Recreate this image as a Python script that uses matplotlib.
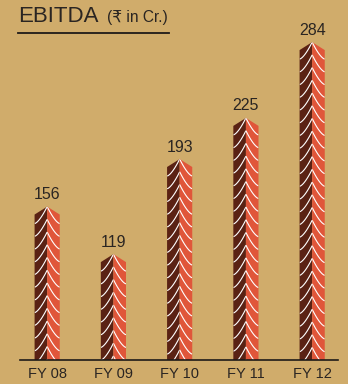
import numpy as np
import matplotlib.pyplot as plt
from matplotlib.patches import Polygon
from matplotlib.lines import Line2D

# Data
years = ['FY 08', 'FY 09', 'FY 10', 'FY 11', 'FY 12']
ebitda = [156, 119, 193, 225, 284]

# Colours
bg = '#D0AC6B'
dark = '#5A2214'
light = '#E0563A'
txt = '#2A2522'

plt.rcParams['font.family'] = ['Liberation Sans', 'DejaVu Sans']

fig = plt.figure(figsize=(3.48, 3.84), dpi=100, facecolor=bg)
ax = fig.add_axes([20 / 348, 24 / 384, 318 / 348, 350 / 384])
ax.set_facecolor('none')
ax.set_xlim(-0.41, 4.39)
ax.set_ylim(36.6, 309)

half = 0.19      # half bar width (data units)
notch = 6.2      # drop from peak to corner
step = 9.9       # spacing of chevrons
drop = 13.2      # chevron drop from centre to edge

for i, v in enumerate(ebitda):
    left = Polygon([(i - half, 0), (i - half, v - notch), (i, v), (i, 0)],
                   closed=True, facecolor=dark, edgecolor='none')
    right = Polygon([(i, 0), (i, v), (i + half, v - notch), (i + half, 0)],
                    closed=True, facecolor=light, edgecolor='none')
    ax.add_patch(left)
    ax.add_patch(right)
    # white chevron lines
    t = np.linspace(0, 1, 25)
    y0 = v
    while y0 > 36.6 - drop:
        for side, patch in ((-1, left), (1, right)):
            xs = i + side * half * t
            ys = y0 - drop * (1 - (1 - t) ** 1.5)
            ln, = ax.plot(xs, ys, color='white', lw=0.8, solid_capstyle='butt')
            ln.set_clip_path(patch)
        y0 -= step
    ax.text(i, v + 3.5, str(v), ha='center', va='bottom', fontsize=11.5, color=txt)

ax.set_xticks(range(len(years)))
ax.set_xticklabels(years, fontsize=10.5, color=txt)
ax.tick_params(axis='x', length=0, pad=5)
ax.set_yticks([])
for s in ['top', 'left', 'right']:
    ax.spines[s].set_visible(False)
ax.spines['bottom'].set_color('#1E1A18')
ax.spines['bottom'].set_linewidth(1.2)

# Title
fig.text(18 / 348, 1 - 22 / 384, 'EBITDA', fontsize=16, color=txt, va='baseline')
fig.text(107 / 348, 1 - 22 / 384, '(₹ in Cr.)', fontsize=11.2, color=txt, va='baseline')
fig.add_artist(Line2D([18 / 348, 169 / 348], [1 - 32.5 / 384] * 2,
                      transform=fig.transFigure, color='#1E1A18', lw=1.3))

fig.savefig('out.png', dpi=100, facecolor=bg)
